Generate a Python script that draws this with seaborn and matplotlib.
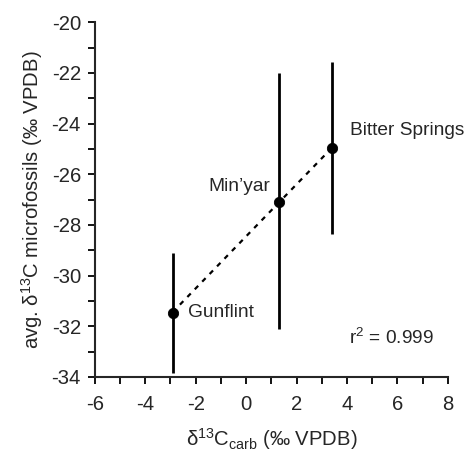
import numpy as np
import pandas as pd
import matplotlib
matplotlib.use("Agg")
import matplotlib.pyplot as plt
import seaborn as sns
from matplotlib.ticker import MultipleLocator

# Data
sites = ["Gunflint", "Min\u2019yar", "Bitter Springs"]
d13c_carb = [-2.92, 1.30, 3.40]
d13c_fossil = [-31.46, -27.09, -24.98]
err_low = [-33.85, -32.12, -28.37]
err_high = [-29.12, -22.02, -21.56]

df = pd.DataFrame({"site": sites, "carb": d13c_carb, "fossil": d13c_fossil,
                   "lo": err_low, "hi": err_high})

sns.set_style("ticks")
plt.rcParams["font.family"] = ["Liberation Sans", "DejaVu Sans"]
plt.rcParams["mathtext.fontset"] = "custom"
plt.rcParams["mathtext.rm"] = "Liberation Sans"
plt.rcParams["mathtext.it"] = "Liberation Sans"
plt.rcParams["axes.unicode_minus"] = False

fig = plt.figure(figsize=(4.65, 4.53), dpi=100)
ax = fig.add_axes([0.204, 0.168, 0.759, 0.783])

# vertical range bars
ax.vlines(df["carb"], df["lo"], df["hi"], color="black", lw=2)

# regression line (dashed)
sns.regplot(data=df, x="carb", y="fossil", ci=None, scatter=False, ax=ax,
            line_kws=dict(color="black", lw=1.6, dashes=(2.2, 2.6)))

sns.scatterplot(data=df, x="carb", y="fossil", color="black", s=55,
                edgecolor="black", zorder=5, ax=ax, legend=False)

fs = 13.8
ax.text(4.14, -24.26, "Bitter Springs", fontsize=fs, ha="left", va="center")
ax.text(0.97, -26.5, "Min\u2019yar", fontsize=fs, ha="right", va="center")
ax.text(-2.3, -31.46, "Gunflint", fontsize=fs, ha="left", va="center")
ax.text(4.08, -32.46, "r$^{2}$ = 0.999", fontsize=fs, ha="left", va="center")

lfs = 14.6
ax.set_xlim(-6, 8)
ax.set_ylim(-34, -20)
ax.xaxis.set_major_locator(MultipleLocator(2))
ax.xaxis.set_minor_locator(MultipleLocator(1))
ax.yaxis.set_major_locator(MultipleLocator(2))
ax.yaxis.set_minor_locator(MultipleLocator(1))
ax.tick_params(which="both", direction="out", length=5, width=1.3,
               labelsize=lfs, color="black")
ax.tick_params(axis="x", pad=8)
ax.tick_params(axis="y", pad=5)
for s in ["left", "bottom"]:
    ax.spines[s].set_linewidth(1.5)
sns.despine(ax=ax)

ax.set_xlabel(r"δ$^{\mathrm{13}}$C$_{\mathrm{carb}}$ (‰ VPDB)", fontsize=lfs, labelpad=9)
ax.set_ylabel(r"avg. δ$^{\mathrm{13}}$C microfossils (‰ VPDB)", fontsize=lfs, labelpad=5)

fig.savefig("out.png", dpi=100)
